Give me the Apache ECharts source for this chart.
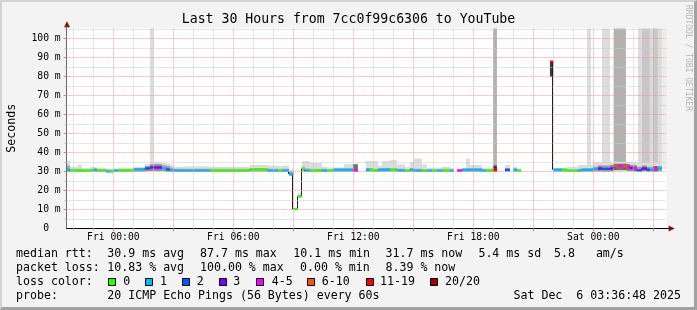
<!DOCTYPE html>
<html><head><meta charset="utf-8">
<script src="https://cdn.jsdelivr.net/npm/echarts@6/dist/echarts.min.js"></script>
<style>
html,body{margin:0;padding:0;background:#f3f3f3;}
#frame{position:absolute;left:0;top:0;width:697px;height:310px;box-sizing:border-box;border-top:2px solid #d2d2d2;border-left:2px solid #d2d2d2;border-right:3px solid #a2a2a2;border-bottom:3px solid #a2a2a2;background:#f3f3f3;}
#chart{position:absolute;left:0;top:0;width:697px;height:310px;}
</style></head><body><div id="frame"></div><div id="chart"></div>
<script>
// ---------- data ----------
const TITLE = 'Last 30 Hours from 7cc0f99c6306 to YouTube';
const X_MIN = -2.333, X_MAX = 27.667;          // hours relative to Fri 00:00
const Y_MIN = 0, Y_MAX = 105.263;               // ms
const xTickHours = [0, 6, 12, 18, 24];
const xTickLabels = ['Fri 00:00', 'Fri 06:00', 'Fri 12:00', 'Fri 18:00', 'Sat 00:00'];
const xMinorHours = [-2,-1,1,2,4,5,7,8,10,11,13,14,16,17,19,20,22,23,25,26];
const xMajorHours = [0,3,6,9,12,15,18,21,24,27];
const yMinorValues = [5,15,25,35,45,55,65,75,85,95,105];
const yMajorValues = [10,20,30,40,50,60,70,80,90,100];
const yLabelValues = [0,10,20,30,40,50,60,70,80,90,100];

// median segments (start hour; each ends where the next starts)
const segStart = [-2.33,-2.17,-1.77,-1.57,-1.17,-1.02,-0.82,-0.37,-0.17,0.03,
  0.23,1.03,1.58,1.83,2.43,2.63,2.83,2.98,3.58,4.83,
  6.83,7.73,8.23,8.43,8.78,9.00,9.22,9.42,9.58,9.83,
  10.43,10.68,10.98,11.53,11.98,12.23,12.63,12.83,13.03,13.23,
  13.43,13.83,14.18,14.58,14.83,15.03,15.43,15.68,15.93,16.18,
  16.43,16.83,17.03,17.18,17.43,17.63,17.83,18.43,18.63,18.98,
  19.18,19.58,19.83,19.98,20.18,20.38,21.83,22.00,22.43,22.68,
  23.23,23.43,23.98,24.23,24.43,24.83,25.03,25.23,25.48,25.68,
  25.83,25.98,26.18,26.43,26.68,26.83,26.98,27.23,27.43];
const segLastEnd = 27.67;
const medianMs = [30.8,30.3,30.5,30.3,30.5,30.8,30.5,30.0,30.0,30.5,
  30.5,31.0,31.5,32.0,31.5,31.0,30.5,30.3,30.3,30.3,
  31.0,30.3,30.3,30.3,28.6,10.1,16.8,31.3,30.3,30.3,
  30.3,30.3,30.8,30.8,30.3,null,30.8,30.8,30.3,30.8,
  30.8,30.8,30.5,30.3,30.8,30.3,30.3,30.3,30.3,30.3,
  30.3,30.3,null,30.3,30.8,30.8,30.8,30.3,30.3,30.8,
  null,30.8,null,30.8,30.3,null,87.7,30.8,30.8,30.3,
  30.3,30.8,31.3,31.5,31.3,31.5,33.0,32.8,32.8,32.5,
  31.7,31.5,30.5,31.5,30.8,30.8,31.3,31.5,null];
// loss class: 0:'0' 1:'1' 2:'2' 3:'3' 4:'4-5' 5:'6-10' 6:'11-19' 7:'20/20'
const lossClass = [1,0,0,0,0,1,0,1,0,1,
  0,1,2,3,1,2,1,1,1,0,
  0,1,0,1,1,0,0,0,1,0,
  1,0,1,1,4,null,1,0,0,1,
  1,0,1,0,1,1,0,1,0,1,
  0,1,null,4,1,1,1,1,0,6,
  null,2,null,1,0,null,6,1,0,0,
  1,1,1,3,2,3,5,4,5,4,
  3,4,2,3,2,1,4,1,null];
const smokeLo = [29.6,29.6,29.6,29.6,29.6,29.8,29.6,29.4,29.4,29.6,
  29.6,29.8,30.0,30.2,30.0,29.8,29.6,29.6,29.6,29.6,
  29.8,29.6,29.6,29.6,27.6,9.6,16.2,29.8,29.6,29.6,
  29.6,29.6,29.8,29.8,29.6,null,29.8,29.8,29.6,29.8,
  29.8,29.8,29.6,29.6,29.8,29.6,29.6,29.6,29.6,29.6,
  29.6,29.6,null,29.6,29.8,29.8,29.8,29.6,29.6,29.8,
  null,29.8,null,29.8,29.6,null,79.8,29.8,29.8,29.6,
  29.6,29.8,29.8,30.0,29.8,30.0,30.5,30.5,30.5,30.3,
  30.0,30.0,29.6,30.0,29.8,29.8,29.8,30.0,null];
const smokeHi = [35.4,32.4,33.4,31.8,32.4,32.4,31.9,31.5,31.5,31.5,
  31.9,32.4,33.7,35.0,34.4,34.0,33.4,32.4,32.6,32.4,
  33.3,33.0,32.6,33.0,31.0,11.0,18.5,35.4,35.4,34.5,
  32.4,32.0,32.0,33.7,33.7,null,35.4,35.4,35.4,33.0,
  35.4,36.0,33.7,32.4,35.0,36.7,33.7,31.9,31.9,31.9,
  32.4,31.9,null,31.5,31.5,36.7,33.3,31.9,31.9,33.0,
  null,33.3,null,32.4,31.5,null,87.9,31.8,31.8,32.4,
  33.3,33.3,35.0,34.7,34.7,34.7,35.0,35.0,35.0,35.0,
  35.0,34.7,34.4,34.4,34.4,34.7,34.7,34.4,null];
const smokeDense = [33.0,31.3,31.3,31.0,31.3,31.3,31.0,30.8,30.8,31.0,
  31.0,31.8,32.8,33.7,33.3,32.8,32.0,31.3,31.3,31.3,
  31.8,31.3,31.3,31.3,29.8,10.6,17.5,32.4,31.5,31.3,
  31.3,31.0,31.3,31.5,33.7,null,31.8,31.8,31.3,31.5,
  31.8,31.8,31.3,31.0,31.5,31.3,31.0,31.0,31.0,31.0,
  31.3,31.0,null,31.0,31.3,31.5,31.5,31.0,31.0,33.0,
  null,31.3,null,31.3,31.0,null,87.7,31.3,31.3,31.0,
  31.3,31.5,32.4,33.0,33.0,33.3,34.0,34.0,34.0,33.7,
  33.3,33.0,32.4,33.0,32.4,32.4,32.8,32.8,null];

// full-height smoke (outliers above the scale)
const tallStart = [1.83, 18.98, 23.68, 24.43, 25.03, 26.23, 26.43, 26.83, 26.98, 27.23, 27.43];
const tallEnd   = [2.03, 19.18, 23.88, 24.83, 25.63, 26.43, 26.83, 26.98, 27.23, 27.43, 27.67];
const tallLo    = [33, 32, 31, 31, 31, 31, 31, 31, 31, 31, 31];
const tallLevel = [1, 3, 1, 1, 3, 1, 2, 1, 2, 1, 0];

const rttStats = ['30.9', '87.7', '10.1', '31.7', '5.4', '5.8'];
const lossStats = ['10.83', '100.00', '0.00', '8.39'];
const lossLabels = ['0', '1', '2', '3', '4-5', '6-10', '11-19', '20/20'];
const PROBE = '20 ICMP Echo Pings (56 Bytes) every 60s';
const STAMP = 'Sat Dec  6 03:36:48 2025';

// ---------- styles ----------
const MONO = '"DejaVu Sans Mono", monospace';
const LOSS_COLORS = ['#26ff00','#00b8ff','#0059ff','#7e00ff','#ff00ff','#ff5500','#ff0000','#a10000'];
const DENSE_COLORS = ['#b2b2b2','#a6a6a6','#9a9a9a','#8e8e8e','#707070','#666666','#3a3a3a','#303030'];
const TALL_COLORS = ['#ececec','#dcdcdc','#c8c8c8','#b2b2b2'];
const GRID_GRAY = '#cccccc', GRID_RED = '#ee9c9c';

// ---------- build series data ----------
const segEnd = i => (i + 1 < segStart.length ? segStart[i + 1] : segLastEnd);
const smokeData = [], bandData = [], linkData = [];
segStart.forEach((s, i) => {
  if (medianMs[i] == null) return;
  smokeData.push([s, segEnd(i), smokeLo[i], smokeHi[i], smokeDense[i], lossClass[i]]);
  bandData.push([s, segEnd(i), medianMs[i], lossClass[i]]);
  if (i > 0 && medianMs[i - 1] != null) linkData.push([s, medianMs[i - 1], medianMs[i]]);
});
const tallData = tallStart.map((s, i) => [s, tallEnd[i], tallLo[i], Y_MAX, tallLevel[i]]);

function box(api, x0, x1, y0, y1) {
  const a = api.coord([x0, y1]), b = api.coord([x1, y0]);
  return { x: a[0], y: a[1], width: b[0] - a[0], height: b[1] - a[1] };
}

const chart = echarts.init(document.getElementById('chart'), null, { renderer: 'canvas', width: 697, height: 310 });

const axisFont = { fontFamily: MONO, fontSize: 9.7, color: '#000' };

const option = {
  animation: false,
  backgroundColor: 'transparent',
  title: {
    text: TITLE, left: 'center', top: 13, padding: 0,
    textStyle: { fontFamily: MONO, fontSize: 13.2, fontWeight: 'normal', color: '#000' }
  },
  grid: { left: 66.67, top: 28.3, width: 600, height: 200, show: true, backgroundColor: '#ffffff', borderWidth: 0, outerBoundsMode: 'none', containLabel: false },
  xAxis: [
    { type: 'value', position: 'bottom', min: X_MIN, max: X_MAX, z: 10,
      axisLine: { show: true, onZero: false, lineStyle: { color: '#000', width: 1 } },
      axisTick: { show: true, customValues: xMinorHours, length: 2, lineStyle: { color: '#bcbcbc' } },
      axisLabel: { show: false },
      splitLine: { show: true, lineStyle: { color: GRID_GRAY, type: [1, 1], width: 1 } } },
    { type: 'value', position: 'bottom', min: X_MIN, max: X_MAX, z: 11,
      axisLine: { show: false, onZero: false },
      axisTick: { show: true, customValues: xMajorHours, length: 3, lineStyle: { color: '#e07878' } },
      axisLabel: { show: true, customValues: xTickHours, margin: 4, ...axisFont,
        formatter: v => xTickLabels[xTickHours.indexOf(Math.round(v))] || '' },
      splitLine: { show: true, lineStyle: { color: GRID_RED, type: [1, 1], width: 1 } } }
  ],
  yAxis: [
    { type: 'value', position: 'left', min: Y_MIN, max: Y_MAX, z: 10,
      axisLine: { show: true, onZero: false, lineStyle: { color: '#6a6a6a', width: 1 } },
      axisTick: { show: true, customValues: yMinorValues, length: 2, lineStyle: { color: '#bcbcbc' } },
      axisLabel: { show: false },
      splitLine: { show: true, lineStyle: { color: GRID_GRAY, type: [1, 1], width: 1 } } },
    { type: 'value', position: 'left', min: Y_MIN, max: Y_MAX, z: 11,
      name: 'Seconds', nameLocation: 'middle', nameRotate: 90, nameGap: 49,
      nameTextStyle: { fontFamily: MONO, fontSize: 11.6, color: '#000' },
      axisLine: { show: false, onZero: false },
      axisTick: { show: true, customValues: yMajorValues, length: 3, lineStyle: { color: '#e07878' } },
      axisLabel: { show: true, customValues: yLabelValues, margin: 6, ...axisFont,
        formatter: v => (v === 0 ? '0  ' : v + ' m') },
      splitLine: { show: true, lineStyle: { color: GRID_RED, type: [1, 1], width: 1 } } }
  ],
  series: [
    { type: 'custom', name: 'outliers', xAxisIndex: 0, yAxisIndex: 0, clip: true, z: 1, silent: true,
      data: tallData,
      renderItem: (p, api) => ({ type: 'rect',
        shape: box(api, api.value(0), api.value(1), api.value(2), api.value(3)),
        style: { fill: TALL_COLORS[api.value(4)] } }) },
    { type: 'custom', name: 'smoke', xAxisIndex: 0, yAxisIndex: 0, clip: true, z: 2, silent: true,
      data: smokeData,
      renderItem: (p, api) => ({ type: 'group', children: [
        { type: 'rect', shape: box(api, api.value(0), api.value(1), api.value(2), api.value(3)), style: { fill: '#dcdcdc' } },
        { type: 'rect', shape: box(api, api.value(0), api.value(1), api.value(2), api.value(4)), style: { fill: DENSE_COLORS[api.value(5)] } }
      ] }) },
    { type: 'custom', name: 'median link', xAxisIndex: 0, yAxisIndex: 0, clip: true, z: 3, silent: true,
      data: linkData,
      renderItem: (p, api) => {
        const a = api.coord([api.value(0), api.value(1)]), b = api.coord([api.value(0), api.value(2)]);
        const x = Math.round(a[0]) - 0.5;
        return { type: 'line', shape: { x1: x, y1: a[1], x2: x, y2: b[1] }, style: { stroke: '#202020', lineWidth: 1 } };
      } },
    { type: 'custom', name: 'median', xAxisIndex: 0, yAxisIndex: 0, clip: true, z: 4, silent: true,
      data: bandData,
      renderItem: (p, api) => {
        const a = api.coord([api.value(0), api.value(2)]), b = api.coord([api.value(1), api.value(2)]);
        return { type: 'rect', shape: { x: a[0], y: a[1] - 1.2, width: b[0] - a[0], height: 2.4 },
          style: { fill: LOSS_COLORS[api.value(3)] } };
      } }
  ]
};
chart.setOption(option);

// ---------- legend / decorations ----------
const font = '11.6px ' + MONO;
const txt = (text, x, y, align) => ({ type: 'text', x, y, silent: true,
  style: { text, font, fill: '#000', align: align || 'left', verticalAlign: 'middle' } });
const L1 = 254.3, L2 = 268.3, L3 = 282.3, L4 = 296.2;
const elements = [
  txt('median rtt:', 16, L1),
  txt(rttStats[0] + ' ms avg', 107.3, L1),
  txt(rttStats[1] + ' ms max', 200, L1),
  txt(rttStats[2] + ' ms min', 293.3, L1),
  txt(rttStats[3] + ' ms now', 385.5, L1),
  txt(rttStats[4] + ' ms sd', 478.4, L1),
  txt(rttStats[5] + '   am/s', 554, L1),
  txt('packet loss:', 16, L2),
  txt(lossStats[0] + ' % avg', 107.3, L2),
  txt(lossStats[1] + ' % max', 200, L2),
  txt(lossStats[2] + ' % min', 300, L2),
  txt(lossStats[3] + ' % now', 385.5, L2),
  txt('loss color:', 16, L3),
  txt('probe:', 16, L4),
  txt(PROBE, 107.3, L4),
  txt(STAMP, 681, L4, 'right'),
  { type: 'text', x: 688.5, y: 58, rotation: -Math.PI / 2, silent: true,
    style: { text: 'RRDTOOL / TOBI OETIKER', font: '8px ' + MONO, fill: '#b4b4b4', align: 'center', verticalAlign: 'middle' } }
];
const boxX = [108.5, 145.5, 182.5, 219.5, 256.5, 307.5, 366.5, 430.5];
const boxLabelX = [123.3, 160, 196.7, 233.3, 271.7, 321.7, 380, 445];
lossLabels.forEach((lab, i) => {
  elements.push({ type: 'rect', silent: true, shape: { x: boxX[i], y: 278.5, width: 7, height: 7 },
    style: { fill: LOSS_COLORS[i], stroke: '#000', lineWidth: 1 } });
  elements.push(txt(lab, boxLabelX[i], L3));
});
// axis arrows
const o = chart.convertToPixel({ xAxisIndex: 0, yAxisIndex: 0 }, [X_MIN, Y_MIN]);
const t = chart.convertToPixel({ xAxisIndex: 0, yAxisIndex: 0 }, [X_MIN, Y_MAX]);
const r = chart.convertToPixel({ xAxisIndex: 0, yAxisIndex: 0 }, [X_MAX, Y_MIN]);
const ax = Math.round(o[0]) - 0.5, ay = Math.round(o[1]) + 0.5;
elements.push({ type: 'polygon', silent: true, shape: { points: [[ax + 0.5, t[1] - 7], [ax - 2.5, t[1] - 1], [ax + 3.5, t[1] - 1]] }, style: { fill: '#8b1010' } });
elements.push({ type: 'polygon', silent: true, shape: { points: [[r[0] + 8, ay], [r[0] + 2, ay - 3], [r[0] + 2, ay + 3]] }, style: { fill: '#8b1010' } });
elements.push({ type: 'line', silent: true, shape: { x1: ax, y1: t[1], x2: ax, y2: t[1] - 2 }, style: { stroke: '#6a6a6a', lineWidth: 1 } });
elements.push({ type: 'line', silent: true, shape: { x1: r[0], y1: ay, x2: r[0] + 3, y2: ay }, style: { stroke: '#000', lineWidth: 1 } });
chart.setOption({ graphic: { elements } });
</script></body></html>
